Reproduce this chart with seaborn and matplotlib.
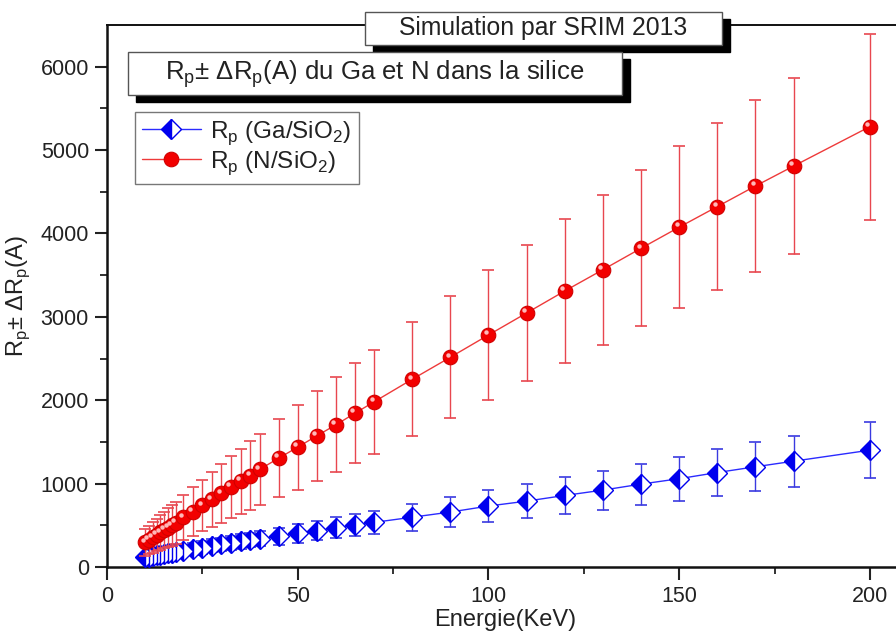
import numpy as np
import pandas as pd
import seaborn as sns
import matplotlib
matplotlib.use("Agg")
import matplotlib.pyplot as plt
from matplotlib.patches import Rectangle
from matplotlib.transforms import offset_copy

# ---- data ----
energy = [10, 11, 12, 13, 14, 15, 16, 17, 18, 20, 22.5, 25, 27.5, 30, 32.5, 35, 37.5, 40,
          45, 50, 55, 60, 65, 70, 80, 90, 100, 110, 120, 130, 140, 150, 160, 170, 180, 200]
rp_ga = [115, 124, 132, 140, 148, 156, 164, 172, 180, 195, 213, 232, 252, 270, 288, 306, 323, 340,
         371, 403, 437, 470, 503, 535, 597, 659, 731, 790, 858, 922, 994, 1059, 1133, 1202, 1269, 1401]
drp_ga = [35, 38, 41, 44, 47, 50, 53, 56, 59, 64, 69, 74, 78, 82, 85, 87, 89, 91,
          102, 112, 118, 128, 134, 142, 160, 176, 188, 207, 220, 233, 246, 265, 278, 292, 307, 335]
rp_n = [296, 325, 355, 385, 415, 443, 472, 500, 530, 595, 662, 740, 812, 882, 960, 1030, 1095, 1170,
        1305, 1437, 1573, 1705, 1844, 1980, 2251, 2515, 2782, 3046, 3310, 3565, 3822, 4075, 4322, 4569, 4808, 5281]
drp_n = [160, 172, 184, 196, 208, 220, 232, 244, 255, 267, 292, 308, 327, 350, 371, 391, 415, 431,
         467, 510, 537, 570, 600, 628, 682, 732, 778, 820, 865, 900, 936, 970, 1000, 1035, 1060, 1115]

label_ga = r"R$_\mathregular{p}$ (Ga/SiO$_\mathregular{2}$)"
label_n = r"R$_\mathregular{p}$ (N/SiO$_\mathregular{2}$)"
title1 = "Simulation par SRIM 2013"
title2 = r"R$_\mathregular{p}$± ΔR$_\mathregular{p}$(A) du Ga et N dans la silice"
xlabel = "Energie(KeV)"
ylabel = r"R$_\mathregular{p}$± ΔR$_\mathregular{p}$(A)"
xticks = [0, 50, 100, 150, 200]
yticks = [0, 1000, 2000, 3000, 4000, 5000, 6000]

df = pd.DataFrame({"E": energy, "ga": rp_ga, "dga": drp_ga, "n": rp_n, "dn": drp_n})

sns.set_theme(style="ticks")
plt.rcParams["font.family"] = ["Liberation Sans", "DejaVu Sans"]
plt.rcParams["mathtext.fontset"] = "custom"
plt.rcParams["mathtext.rm"] = "Liberation Sans"

W, H = 896, 634
fig = plt.figure(figsize=(W / 100, H / 100), dpi=100)
fig.patch.set_facecolor("white")

x0, x1 = 107, 908      # pixel positions of axes left/right
ytop, ybot = 25, 567   # pixel positions of axes top/bottom
ax = fig.add_axes([x0 / W, 1 - ybot / H, (x1 - x0) / W, (ybot - ytop) / H])
ax.set_facecolor("white")

# Ga series
ax.errorbar(df["E"], df["ga"], yerr=df["dga"], fmt="none", ecolor="#3a3ae0",
            elinewidth=1.0, capsize=4.5, capthick=1.2, zorder=2)
sns.lineplot(data=df, x="E", y="ga", ax=ax, color="#2b2bff", linewidth=1.0,
             marker="D", markersize=10, fillstyle="left", markerfacecolor="#0000ee",
             markerfacecoloralt="white", markeredgecolor="#0000ee", markeredgewidth=1.0,
             label=label_ga, zorder=3)

# N series
ax.errorbar(df["E"], df["n"], yerr=df["dn"], fmt="none", ecolor="#e8474f",
            elinewidth=1.0, capsize=4.5, capthick=1.2, zorder=4)
sns.lineplot(data=df, x="E", y="n", ax=ax, color="#ee3a3a", linewidth=1.0,
             marker="o", markersize=10.5, markerfacecolor="#f20000",
             markeredgecolor="#d00000", markeredgewidth=0.8,
             label=label_n, zorder=5)
# small highlight on the spheres
hl = offset_copy(ax.transData, fig=fig, x=-1.8, y=2.0, units="points")
ax.plot(df["E"], df["n"], linestyle="none", marker="o", markersize=3.2,
        markerfacecolor="#ffb8b8", markeredgewidth=0, transform=hl, zorder=6)

ax.set_xlim(0, 210)
ax.set_ylim(0, 6500)
ax.set_xticks(xticks)
ax.set_yticks(yticks)
ax.set_xticks([25, 75, 125, 175], minor=True)
ax.set_yticks(np.arange(500, 6500, 1000), minor=True)
ax.tick_params(axis="both", which="major", direction="out", length=9, width=1.5,
               labelsize=15.5, colors="#222222", labelcolor="#222222")
ax.tick_params(axis="both", which="minor", direction="out", length=5, width=1.3,
               colors="#222222")
ax.tick_params(axis="x", pad=5)
ax.tick_params(axis="y", pad=4)

for s in ["left", "bottom"]:
    ax.spines[s].set_linewidth(1.8)
    ax.spines[s].set_color("#111111")
ax.spines["top"].set_visible(True)
ax.spines["top"].set_linewidth(1.4)
ax.spines["top"].set_color("#111111")
ax.spines["right"].set_visible(False)

ax.set_xlabel(xlabel, fontsize=17, color="#222222")
ax.set_ylabel(ylabel, fontsize=17, color="#222222")
ax.xaxis.set_label_coords((505 - x0) / (x1 - x0), -(609 - ybot) / (ybot - ytop))
ax.yaxis.set_label_coords(-(107 - 32) / (x1 - x0), 0.5)

leg = ax.legend(loc="upper left",
                bbox_to_anchor=((135 - x0) / (x1 - x0), (ybot - 112) / (ybot - ytop)),
                fontsize=17.5, frameon=True, fancybox=False, framealpha=1,
                edgecolor="#777777", handlelength=2.4, handletextpad=0.4,
                borderpad=0.3, labelspacing=0.1, borderaxespad=0)
leg.get_frame().set_linewidth(1.0)
for t in leg.get_texts():
    t.set_color("#222222")


def box(px0, py0, px1, py1, text, fs, sh=8):
    # shadow
    fig.add_artist(Rectangle(((px0 + sh) / W, 1 - (py1 + sh - 1) / H), (px1 - px0) / W,
                             (py1 - py0) / H, transform=fig.transFigure,
                             facecolor="black", edgecolor="black", zorder=10))
    fig.add_artist(Rectangle((px0 / W, 1 - py1 / H), (px1 - px0) / W, (py1 - py0) / H,
                             transform=fig.transFigure, facecolor="white",
                             edgecolor="#555555", linewidth=1.0, zorder=11))
    fig.text((px0 + px1) / 2 / W, 1 - (py0 + py1) / 2 / H, text, ha="center", va="center",
             fontsize=fs, color="#222222", zorder=12)


box(365, 12, 722, 45, title1, 17.8)
box(128, 52, 622, 95, title2, 18.5)

fig.savefig("out.png", dpi=100, facecolor="white")
